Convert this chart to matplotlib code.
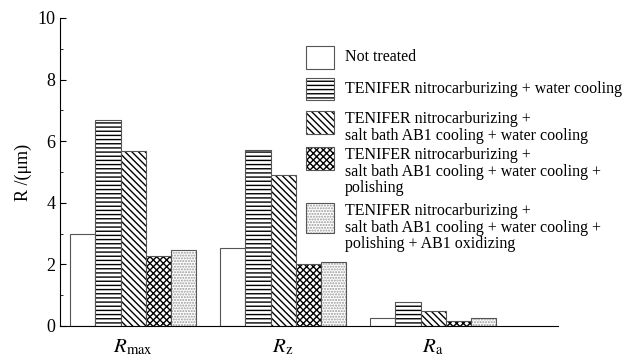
import numpy as np
import matplotlib
matplotlib.use('Agg')
from matplotlib import pyplot as plt
from matplotlib.patches import Rectangle

plt.rc('font', family='Liberation Serif', size=10)
plt.rcParams['mathtext.fontset'] = 'stix'
plt.rcParams['hatch.linewidth'] = 1.0

groups = ['$R_{\\rm max}$', '$R_{\\rm z}$', '$R_{\\rm a}$']
labels = ['Not treated',
          'TENIFER nitrocarburizing + water cooling',
          'TENIFER nitrocarburizing +\nsalt bath AB1 cooling + water cooling',
          'TENIFER nitrocarburizing +\nsalt bath AB1 cooling + water cooling +\npolishing',
          'TENIFER nitrocarburizing +\nsalt bath AB1 cooling + water cooling +\npolishing + AB1 oxidizing']
not_treated = [3.0, 2.52, 0.26]
tenifer_water = [6.7, 5.72, 0.77]
tenifer_ab1 = [5.68, 4.9, 0.5]
tenifer_polish = [2.27, 2.0, 0.17]
tenifer_oxid = [2.47, 2.07, 0.27]

series = [not_treated, tenifer_water, tenifer_ab1, tenifer_polish, tenifer_oxid]
hatchs = [None, '----', '\\\\\\\\\\', 'xxxxx', '......']
hcolors = ['black', 'black', 'black', 'black', '#999999']

fig = plt.figure(figsize=(6.34, 3.56), dpi=100)
ax = fig.add_axes([60/634, 1-326/356, 498/634, 308/356])

x = np.arange(3)
width = 0.167
for i, vals in enumerate(series):
    ax.bar(x + (i - 2) * width, vals, width, color='white', edgecolor=hcolors[i],
           hatch=hatchs[i], linewidth=0.0)
    ax.bar(x + (i - 2) * width, vals, width, color='none', edgecolor='#555555',
           linewidth=0.8)

ax.set_xlim(-0.487, 2.833)
ax.set_ylim(0, 10)
ax.set_yticks([0, 2, 4, 6, 8, 10])
ax.set_yticks([1, 3, 5, 7, 9], minor=True)
ax.set_xticks(x)
ax.set_xticklabels(groups, fontsize=15)
ax.tick_params(axis='x', length=0, pad=8)
ax.tick_params(axis='y', which='major', length=4, direction='in', labelsize=13)
ax.tick_params(axis='y', which='minor', length=2, direction='in')
ax.spines['top'].set_visible(False)
ax.spines['right'].set_visible(False)
ax.set_ylabel('R /(μm)', fontsize=13, labelpad=4)

# legend drawn by hand to keep patch next to first lines
tops = [46, 78, 111, 147, 203]
bottoms = [69, 100, 134, 170, 233]
text_y = [57, 89, 111, 147, 203]
for i in range(5):
    x0 = 306 / 634
    y0 = 1 - bottoms[i] / 356
    h = (bottoms[i] - tops[i]) / 356
    fig.patches.append(Rectangle((x0, y0), 28/634, h, transform=fig.transFigure,
                                 facecolor='white', edgecolor=hcolors[i],
                                 hatch=hatchs[i], linewidth=0.0))
    fig.patches.append(Rectangle((x0, y0), 28/634, h, transform=fig.transFigure,
                                 facecolor='none', edgecolor='#555555', linewidth=0.8))
    va = 'center' if i < 2 else 'top'
    fig.text(345/634, 1 - text_y[i]/356, labels[i], fontsize=11.5, va=va, ha='left',
             linespacing=1.05)

fig.savefig('out.png', dpi=100)
